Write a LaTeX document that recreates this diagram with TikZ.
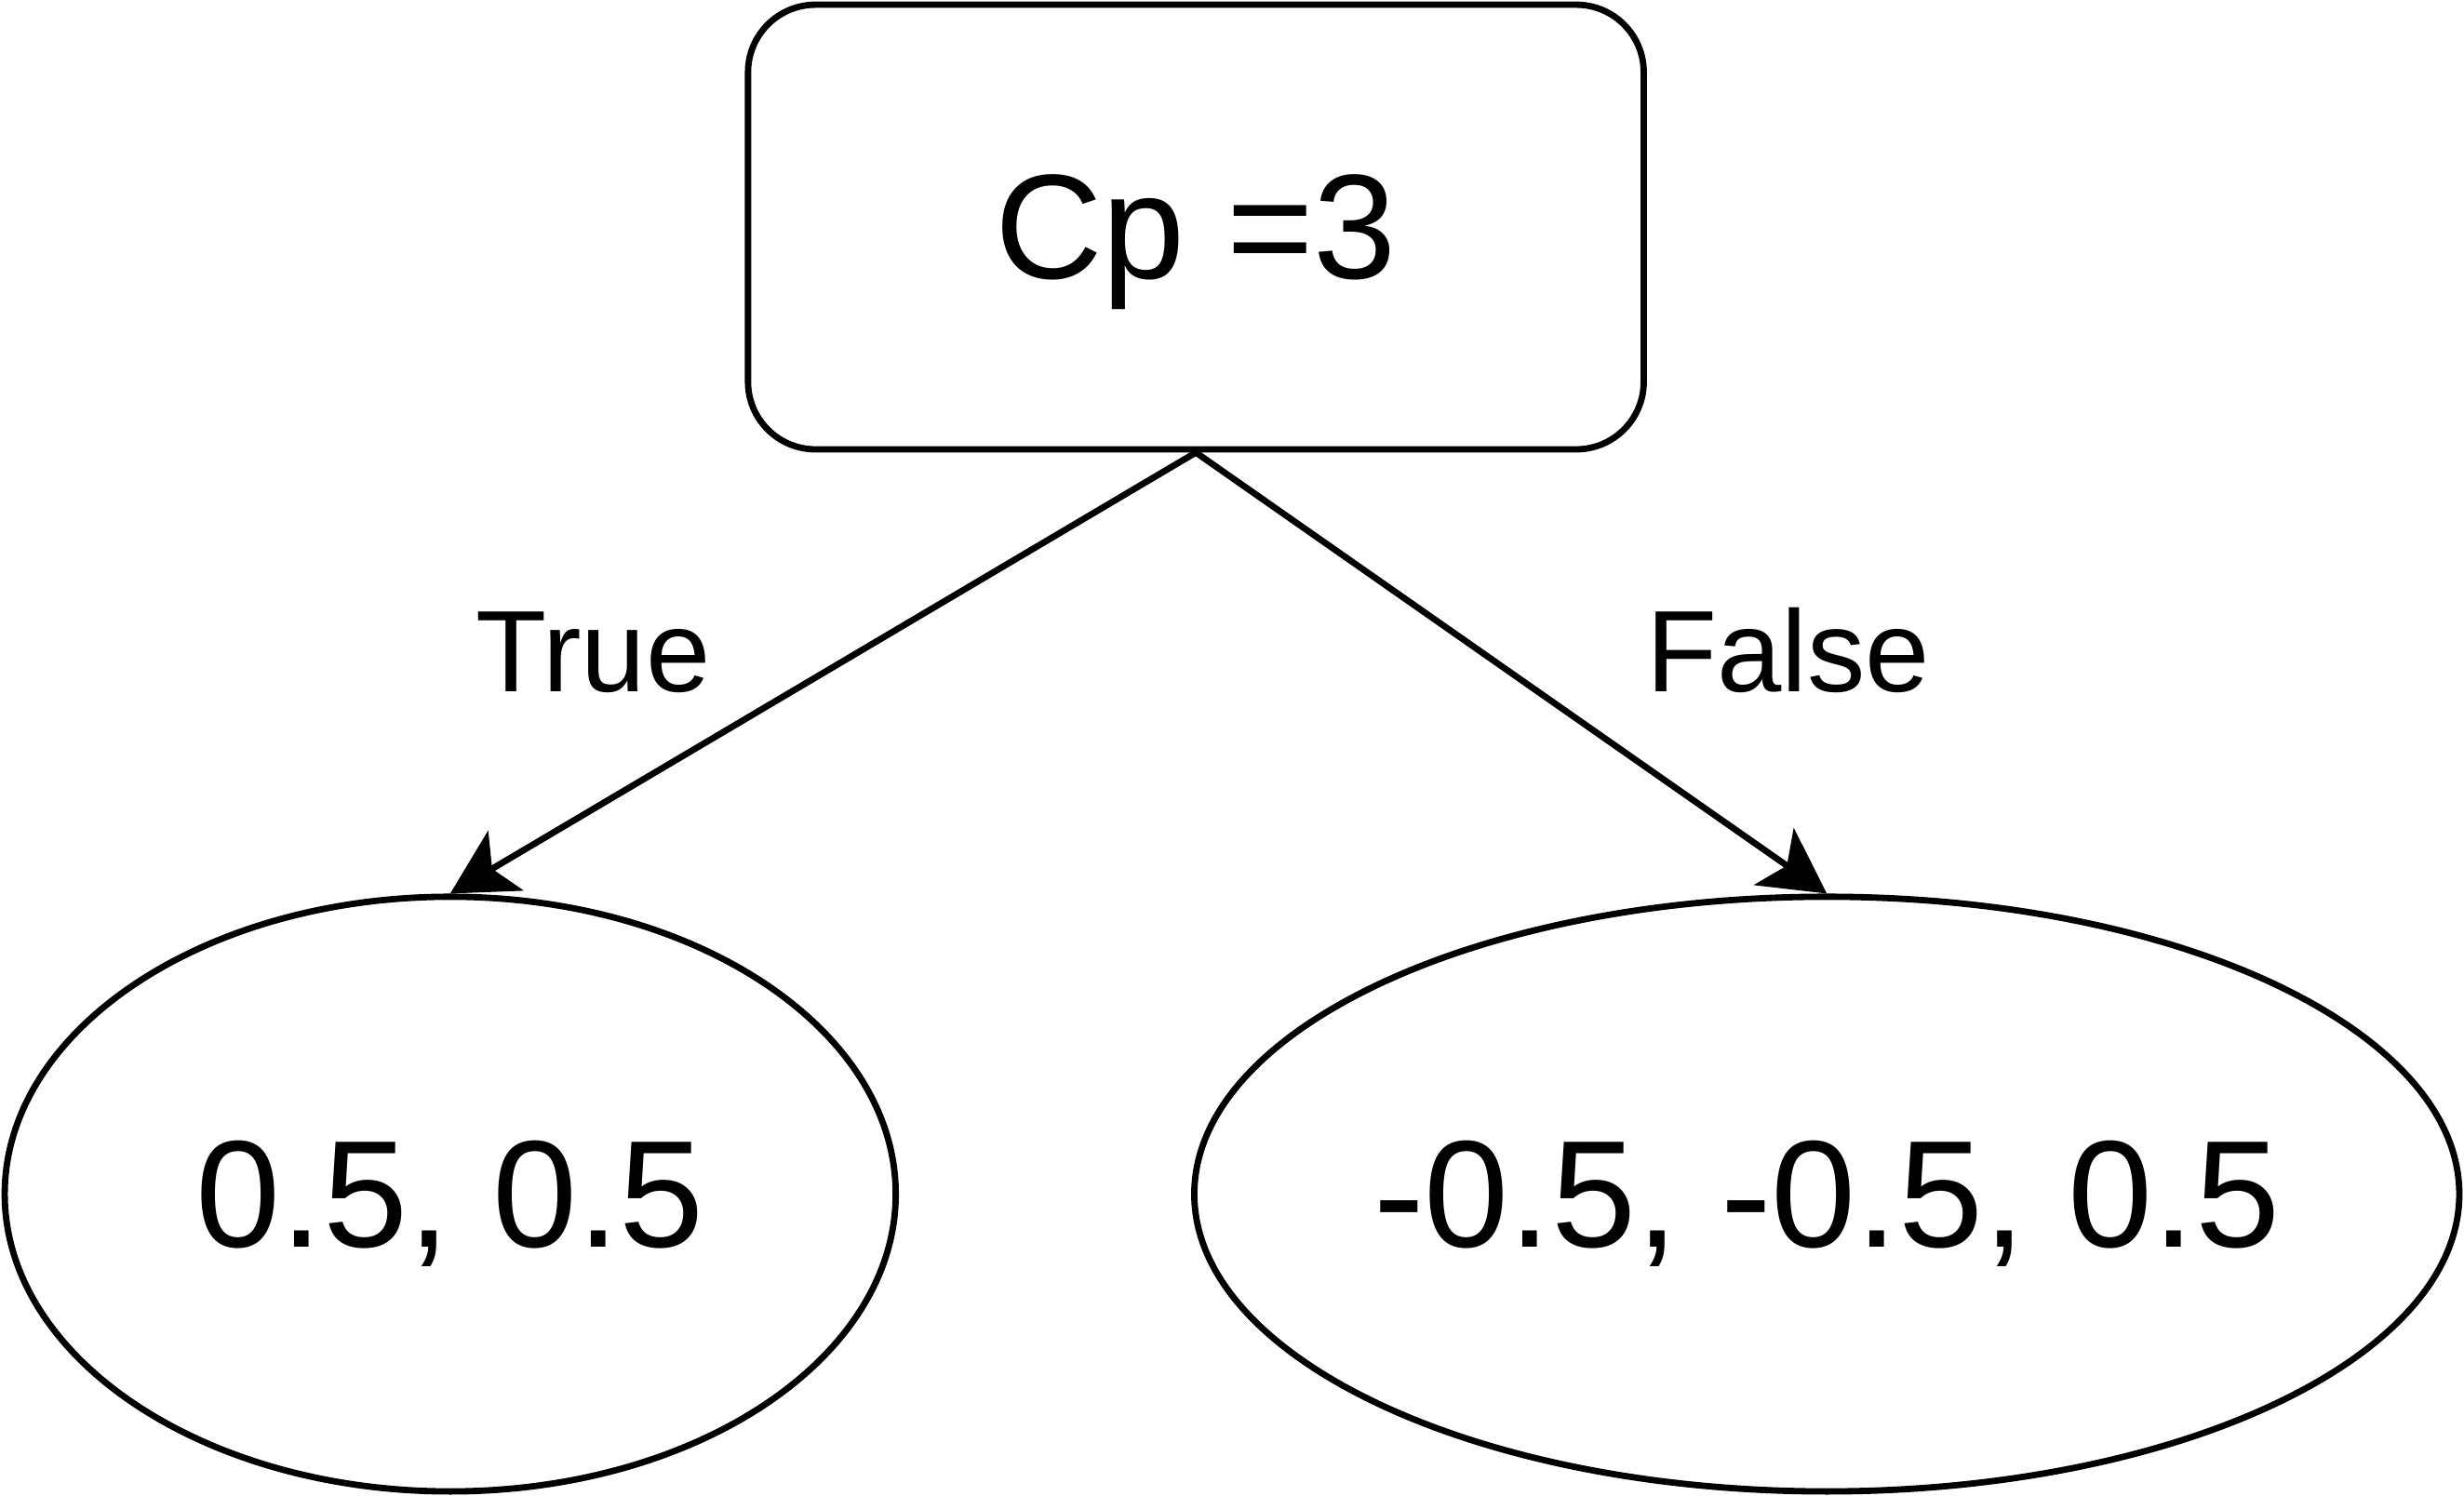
\documentclass[tikz,border=0pt]{standalone}
\usepackage{fontspec}
\setmainfont{Liberation Sans}
\usetikzlibrary{shapes.geometric,arrows.meta}

\begin{document}
\begin{tikzpicture}[
    testbox/.style={draw, line width=1.15pt, rounded corners=0.43cm, minimum width=5.70cm, minimum height=2.83cm, inner sep=0pt, text depth=0pt, font=\fontsize{27}{32}\selectfont},
    leafnode/.style={draw, ellipse, line width=1.15pt, minimum height=3.785cm, inner ysep=0pt, inner xsep=-3mm, text depth=0pt, font=\fontsize{27.6}{32}\selectfont},
    branch/.style={line width=1.15pt, -{Stealth[length=0.41cm, width=0.44cm, inset=0.1cm]}},
    branchlabel/.style={anchor=base, font=\fontsize{21}{25}\selectfont}
]
    \useasboundingbox (0,0) rectangle (15.68,9.52);
    % Draw the split and the two leaves
    \node[testbox] (split) at (7.61,8.075) {Cp =3};
    \node[leafnode, minimum width=5.67cm] (leafT) at (2.865,1.92) {0.5, 0.5};
    \node[leafnode, minimum width=8.05cm] (leafF) at (11.625,1.92) {-0.5, -0.5, 0.5};
    % Add the branches
    \draw[branch] (split.south) -- (leafT.north);
    \draw[branch] (split.south) -- (leafF.north);
    \node[branchlabel] (labT) at (3.775,5.12) {True};
    \node[branchlabel] (labF) at (11.38,5.12) {False};
\end{tikzpicture}
\end{document}
